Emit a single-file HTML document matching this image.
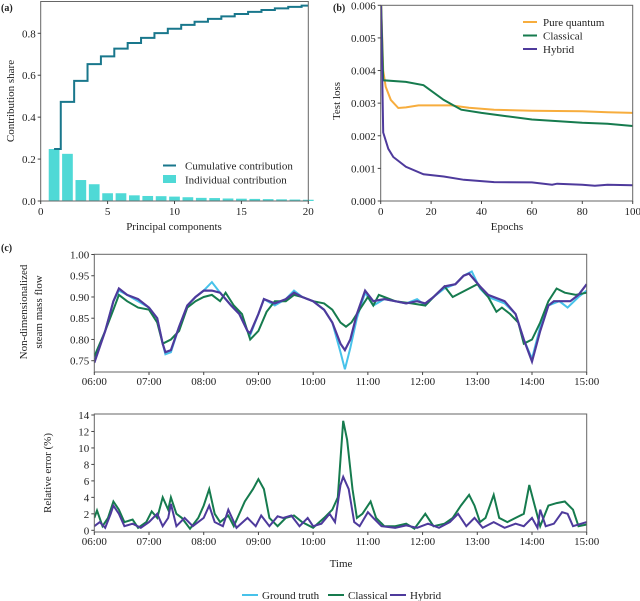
<!DOCTYPE html>
<html><head><meta charset="utf-8">
<style>
html,body{margin:0;padding:0;background:#fff;}
svg{display:block;font-family:"Liberation Serif",serif;}
</style></head>
<body>
<svg id="fig" width="640" height="601" viewBox="0 0 640 601" xmlns="http://www.w3.org/2000/svg"></svg>
<script>
// ---------- Panel (a) data ----------
const pcIndex = [1,2,3,4,5,6,7,8,9,10,11,12,13,14,15,16,17,18,19,20];
const pcIndividual = [0.248,0.225,0.100,0.080,0.037,0.037,0.027,0.024,0.023,0.021,0.018,0.015,0.014,0.012,0.011,0.010,0.009,0.008,0.007,0.006];
const aXTicks = [0,5,10,15,20];
const aYTicks = [0,0.2,0.4,0.6,0.8];
// ---------- Panel (b) data ----------
const epochsQ = [0,1,2,4,7,10,15,20,28,35,45,60,80,90,100];
const lossQ = [0.0065,0.0040,0.0035,0.0031,0.00285,0.00287,0.00293,0.00293,0.00293,0.00286,0.0028,0.00277,0.00275,0.00272,0.0027];
const epochsC = [0,1,10,17,25,32,40,50,60,70,80,90,100];
const lossC = [0.0065,0.0037,0.00365,0.00355,0.0031,0.0028,0.0027,0.0026,0.0025,0.00245,0.0024,0.00237,0.0023];
const epochsH = [0,1,3,5,10,17,25,33,45,60,68,70,80,85,90,100];
const lossH = [0.0065,0.0021,0.0016,0.00135,0.00105,0.00082,0.00075,0.00065,0.00058,0.00057,0.0005,0.00053,0.0005,0.00047,0.0005,0.00048];
const bXTicks = [0,20,40,60,80,100];
const bYTicks = [0,0.001,0.002,0.003,0.004,0.005,0.006];
// ---------- Panel (c) data (hours) ----------
const tGT = [6.0,6.2,6.35,6.45,6.6,6.8,7.0,7.15,7.25,7.3,7.4,7.55,7.7,7.85,8.0,8.15,8.3,8.5,8.65,8.8,8.85,9.0,9.1,9.3,9.5,9.65,9.8,10.0,10.2,10.35,10.5,10.58,10.68,10.8,10.95,11.1,11.3,11.5,11.7,11.9,12.05,12.2,12.4,12.6,12.75,12.9,13.05,13.2,13.5,13.7,13.85,14.0,14.15,14.3,14.5,14.65,14.85,15.0];
const vGT = [0.75,0.82,0.89,0.915,0.905,0.89,0.875,0.85,0.79,0.765,0.77,0.83,0.88,0.9,0.915,0.935,0.91,0.88,0.86,0.82,0.81,0.86,0.895,0.88,0.895,0.915,0.9,0.89,0.87,0.84,0.77,0.73,0.78,0.85,0.91,0.88,0.895,0.89,0.885,0.895,0.88,0.9,0.92,0.93,0.95,0.96,0.92,0.9,0.885,0.86,0.8,0.755,0.83,0.88,0.89,0.875,0.9,0.915];
const tCl = [6.0,6.2,6.35,6.45,6.6,6.8,7.0,7.15,7.25,7.4,7.55,7.7,7.85,8.0,8.15,8.3,8.4,8.55,8.7,8.85,9.0,9.15,9.3,9.5,9.65,9.8,10.0,10.2,10.35,10.5,10.6,10.7,10.85,11.0,11.1,11.2,11.5,11.8,12.05,12.2,12.4,12.55,12.7,13.0,13.2,13.35,13.45,13.6,13.75,13.85,14.0,14.15,14.3,14.45,14.6,14.8,15.0];
const vCl = [0.76,0.82,0.87,0.905,0.89,0.875,0.87,0.84,0.79,0.8,0.82,0.875,0.89,0.9,0.905,0.89,0.91,0.88,0.86,0.8,0.82,0.865,0.89,0.89,0.905,0.9,0.89,0.885,0.87,0.84,0.83,0.84,0.87,0.9,0.88,0.905,0.89,0.885,0.88,0.9,0.925,0.9,0.91,0.93,0.9,0.865,0.875,0.86,0.84,0.79,0.8,0.84,0.89,0.92,0.91,0.905,0.91];
const tHy = [6.0,6.2,6.35,6.45,6.6,6.8,7.0,7.15,7.25,7.3,7.4,7.55,7.7,7.85,8.0,8.15,8.3,8.5,8.65,8.8,8.85,9.0,9.1,9.3,9.5,9.65,9.8,10.0,10.2,10.35,10.5,10.58,10.68,10.8,10.95,11.1,11.3,11.5,11.7,11.9,12.05,12.2,12.4,12.6,12.75,12.85,13.05,13.2,13.5,13.7,13.85,14.0,14.15,14.3,14.4,14.55,14.7,14.85,15.0];
const vHy = [0.745,0.82,0.89,0.92,0.905,0.895,0.875,0.85,0.79,0.77,0.775,0.83,0.88,0.9,0.915,0.915,0.91,0.88,0.86,0.82,0.815,0.86,0.895,0.885,0.895,0.91,0.9,0.89,0.87,0.84,0.79,0.775,0.8,0.86,0.915,0.89,0.895,0.89,0.885,0.89,0.885,0.9,0.925,0.93,0.95,0.955,0.925,0.905,0.89,0.86,0.8,0.748,0.82,0.88,0.89,0.89,0.89,0.905,0.93];
const tErrC = [6.0,6.05,6.15,6.25,6.35,6.45,6.55,6.7,6.8,6.95,7.05,7.15,7.25,7.35,7.4,7.5,7.6,7.75,7.9,8.0,8.1,8.2,8.3,8.45,8.55,8.75,8.9,9.0,9.1,9.2,9.35,9.5,9.65,9.8,10.0,10.2,10.35,10.45,10.55,10.62,10.72,10.8,10.9,11.05,11.15,11.3,11.5,11.7,11.85,12.05,12.2,12.4,12.55,12.7,12.85,12.95,13.05,13.15,13.3,13.4,13.55,13.7,13.85,13.95,14.05,14.15,14.3,14.45,14.6,14.75,14.85,15.0];
const vErrC = [1.5,2.4,0.5,1.5,3.5,2.5,1,1.3,0.3,1,2.3,1.5,4,2.5,4,2,1.5,0.2,1.5,3,5,2,1,1.8,0.5,3.5,5,6.2,5,1.5,0.5,1.5,1.8,1,0.3,1.5,2.5,4,13.3,11,5,1.5,2,3.5,1.5,0.5,0.5,0.8,0.2,2,0.5,0.8,1.5,3,4.3,3,1,1.5,4.3,1.5,1,1.5,2,5.5,3,0.5,3,3.3,3.5,2.5,0.5,0.7];
const tErrH = [6.0,6.1,6.2,6.3,6.35,6.45,6.55,6.7,6.85,7.0,7.15,7.25,7.35,7.4,7.5,7.65,7.8,8.0,8.1,8.2,8.35,8.45,8.6,8.8,8.95,9.05,9.2,9.35,9.45,9.6,9.75,9.9,10.0,10.15,10.3,10.4,10.5,10.55,10.65,10.75,10.85,11.0,11.1,11.25,11.5,11.7,11.9,12.1,12.3,12.5,12.65,12.8,12.95,13.1,13.3,13.5,13.7,13.85,14.0,14.1,14.15,14.25,14.4,14.55,14.65,14.75,14.9,15.0];
const vErrH = [0.5,1,0.3,2,3,2,0.5,0.8,0.3,1,2,0.5,1.5,3.2,0.5,1.5,0.5,1.5,3,1,0.5,2.5,0.3,1.5,0.5,1.8,0.5,1.7,1.5,1.8,0.5,1.5,0.5,0.8,2,1,5.5,6.5,5,1,0.5,2.2,1.5,0.5,0.3,0.6,0.3,0.8,0.3,1,2,0.5,1.5,0.3,1,0.3,0.8,0.5,1.5,0.3,2.5,0.5,0.8,2.2,2,0.5,0.8,1];
const hourTicks = [6,7,8,9,10,11,12,13,14,15];
const flowTicks = [0.75,0.80,0.85,0.90,0.95,1.00];
const errTicks = [0,2,4,6,8,10,12,14];

const NS = "http://www.w3.org/2000/svg";
const svg = document.getElementById('fig');
function el(tag, attrs, parent){
  const e = document.createElementNS(NS, tag);
  for (const k in attrs) e.setAttribute(k, attrs[k]);
  (parent||svg).appendChild(e);
  return e;
}
function txt(s, x, y, opts, parent){
  const t = el('text', Object.assign({x:x, y:y, 'font-size':11, fill:'#222'}, opts||{}), parent);
  t.textContent = s;
  return t;
}
function lin(d0,d1,r0,r1){ return v => r0 + (v-d0)/(d1-d0)*(r1-r0); }
function pathFrom(xs, ys, sx, sy){
  return xs.map((x,i)=>(i?'L':'M')+sx(x).toFixed(1)+','+sy(ys[i]).toFixed(1)).join('');
}
function frame(x0,y0,x1,y1,name){
  const r = el('rect',{x:x0,y:y0,width:x1-x0,height:y1-y0,fill:'none',stroke:'#666','stroke-width':1});
  
  
}
function clip(id,x0,y0,x1,y1){
  const d = el('clipPath',{id:id});
  el('rect',{x:x0,y:y0,width:x1-x0,height:y1-y0},d);
}
function hourLabel(h){ return (h<10?'0':'')+h+':00'; }

// ===== Panel (a) =====
const aL=40.7,aR=308.3,aT=1.5,aB=201;
const ax = lin(0,20,aL,aR), ay = lin(0,0.8,aB,33.3);
const gA = el('g',{});  
pcIndex.forEach((p,i)=>{
  const b = el('rect',{x:ax(p-0.4),y:ay(pcIndividual[i]),width:ax(0.8)-ax(0),height:aB-ay(pcIndividual[i]),fill:'#4fd9d6'},gA);
  
  
});
let cum=0; const cumVals = pcIndividual.map(v=>cum+=v);
let dA = 'M'+ax(pcIndex[0])+','+ay(cumVals[0]);
for(let i=1;i<pcIndex.length;i++){
  const xm = ax((pcIndex[i-1]+pcIndex[i])/2);
  dA += 'L'+xm+','+ay(cumVals[i-1])+'L'+xm+','+ay(cumVals[i]);
}
dA += 'L'+ax(pcIndex[pcIndex.length-1])+','+ay(cumVals[cumVals.length-1]);
const cl = el('path',{d:dA,fill:'none',stroke:'#19778c','stroke-width':2},gA);


frame(aL,aT,aR,aB,'panel-a-axes');
aXTicks.forEach(v=>{ el('line',{x1:ax(v),x2:ax(v),y1:aB,y2:aB+3,stroke:'#444'}); const t=txt(String(v),ax(v),215,{'text-anchor':'middle'});  });
aYTicks.forEach(v=>{ el('line',{x1:aL-3,x2:aL,y1:ay(v),y2:ay(v),stroke:'#444'}); const t=txt(v.toFixed(1),aL-5,ay(v)+4,{'text-anchor':'end'});  });
let t;
t=txt('Principal components',174,230,{'text-anchor':'middle'});  
t=txt('Contribution share',14,101,{'text-anchor':'middle',transform:'rotate(-90 14 101)'});  
t=txt('(a)',1,11,{'font-weight':'bold','font-size':10});  
const lgA = el('g',{});  
el('line',{x1:163,x2:176,y1:165.5,y2:165.5,stroke:'#19778c','stroke-width':2},lgA);
txt('Cumulative contribution',185,169.5,{},lgA);
el('rect',{x:163,y:175,width:13,height:8,fill:'#4fd9d6'},lgA);
txt('Individual contribution',185,183.5,{},lgA);

// ===== Panel (b) =====
const bL=380.7,bR=632.7,bT=5.3,bB=201;
const bx = lin(0,100,bL,bR), by = lin(0,0.006,bB,bT);
clip('clipB',bL,bT,bR,bB);
const gB = el('g',{'clip-path':'url(#clipB)'});  
let p;
p=el('path',{d:pathFrom(epochsQ,lossQ,bx,by),fill:'none',stroke:'#f7ad3d','stroke-width':2},gB);  
p=el('path',{d:pathFrom(epochsC,lossC,bx,by),fill:'none',stroke:'#167b4e','stroke-width':2},gB);  
p=el('path',{d:pathFrom(epochsH,lossH,bx,by),fill:'none',stroke:'#4e3a9c','stroke-width':2},gB);  
frame(bL,bT,bR,bB,'panel-b-axes');
bXTicks.forEach(v=>{ el('line',{x1:bx(v),x2:bx(v),y1:bB,y2:bB+3,stroke:'#444'}); const t=txt(String(v),bx(v),215,{'text-anchor':'middle'});  });
bYTicks.forEach(v=>{ el('line',{x1:bL-3,x2:bL,y1:by(v),y2:by(v),stroke:'#444'}); const t=txt(v.toFixed(3),bL-5,by(v)+4,{'text-anchor':'end'});  });
t=txt('Epochs',507,230,{'text-anchor':'middle'});  
t=txt('Test loss',340,101,{'text-anchor':'middle',transform:'rotate(-90 340 101)'});  
t=txt('(b)',333,11,{'font-weight':'bold','font-size':10});  
const lgB = el('g',{});  
[['Pure quantum','#f7ad3d',22],['Classical','#167b4e',35.5],['Hybrid','#4e3a9c',49]].forEach(e=>{
  el('line',{x1:523,x2:537,y1:e[2],y2:e[2],stroke:e[1],'stroke-width':2},lgB);
  txt(e[0],543,e[2]+4,{},lgB);
});

// ===== Panel (c) top =====
const cL=94.3,cR=586.7,cT=254.3,cB=372;
const cx = lin(6,15,cL,cR), cy = lin(0.75,1.0,360.7,254.5);
clip('clipC',cL,cT,cR,cB);
const gC = el('g',{'clip-path':'url(#clipC)'});  
p=el('path',{d:pathFrom(tGT,vGT,cx,cy),fill:'none',stroke:'#47c2ea','stroke-width':2},gC);  
p=el('path',{d:pathFrom(tCl,vCl,cx,cy),fill:'none',stroke:'#167b4e','stroke-width':2},gC);  
p=el('path',{d:pathFrom(tHy,vHy,cx,cy),fill:'none',stroke:'#4e3a9c','stroke-width':2.2},gC);  
frame(cL,cT,cR,cB,'panel-c-flow-axes');
hourTicks.forEach(h=>{ el('line',{x1:cx(h),x2:cx(h),y1:cB,y2:cB+3,stroke:'#444'}); const t=txt(hourLabel(h),cx(h),385,{'text-anchor':'middle'});  });
flowTicks.forEach(v=>{ el('line',{x1:cL-3,x2:cL,y1:cy(v),y2:cy(v),stroke:'#444'}); const t=txt(v.toFixed(2),cL-5,cy(v)+4,{'text-anchor':'end'});  });
t=txt('Non-dimensionalized',27,312,{'text-anchor':'middle',transform:'rotate(-90 27 312)'});  
t=txt('steam mass flow',42,312,{'text-anchor':'middle',transform:'rotate(-90 42 312)'});  
t=txt('(c)',1,251,{'font-weight':'bold','font-size':10});  

// ===== Panel (c) bottom =====
const eL=94.3,eR=586.7,eT=414,eB=532;
const ex = lin(6,15,eL,eR), ey = lin(0,14,530.3,415);
clip('clipE',eL,eT,eR,eB);
const gE = el('g',{'clip-path':'url(#clipE)'});  
p=el('path',{d:pathFrom(tErrC,vErrC,ex,ey),fill:'none',stroke:'#167b4e','stroke-width':2},gE);  
p=el('path',{d:pathFrom(tErrH,vErrH,ex,ey),fill:'none',stroke:'#4e3a9c','stroke-width':2},gE);  
frame(eL,eT,eR,eB,'panel-c-error-axes');
hourTicks.forEach(h=>{ el('line',{x1:ex(h),x2:ex(h),y1:eB,y2:eB+3,stroke:'#444'}); const t=txt(hourLabel(h),ex(h),545,{'text-anchor':'middle'});  });
errTicks.forEach(v=>{ el('line',{x1:eL-3,x2:eL,y1:ey(v),y2:ey(v),stroke:'#444'}); const t=txt(String(v),eL-5,ey(v)+4,{'text-anchor':'end'});  });
t=txt('Relative error (%)',51,473,{'text-anchor':'middle',transform:'rotate(-90 51 473)'});  
t=txt('Time',341,567,{'text-anchor':'middle'});  

// ===== Bottom legend =====
const lgC = el('g',{});  
[['Ground truth','#47c2ea',242],['Classical','#167b4e',328],['Hybrid','#4e3a9c',390]].forEach(e=>{
  el('line',{x1:e[2],x2:e[2]+16,y1:595,y2:595,stroke:e[1],'stroke-width':2},lgC);
  txt(e[0],e[2]+20,599,{},lgC);
});
</script>
</body></html>
